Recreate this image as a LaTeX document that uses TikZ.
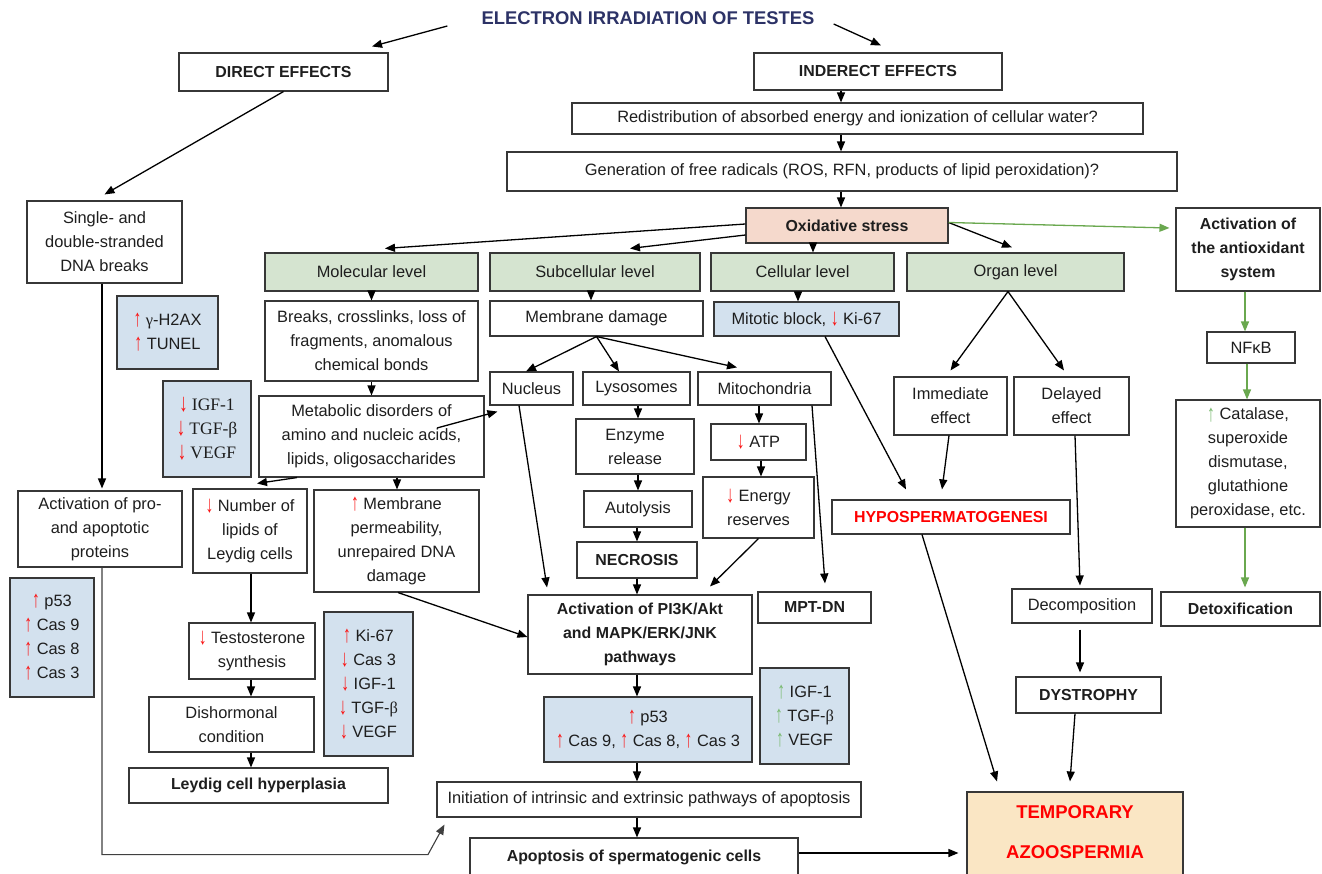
\documentclass[tikz,border=0pt]{standalone}
\usepackage{fontspec}
\setmainfont{Liberation Sans}
\newfontfamily\serifgr{Liberation Serif}
\usetikzlibrary{arrows.meta}
\definecolor{blueF}{RGB}{211,225,238}
\definecolor{greenF}{RGB}{213,228,208}
\definecolor{salmonF}{RGB}{245,217,204}
\definecolor{tempF}{RGB}{250,230,196}
\definecolor{navy}{RGB}{44,50,102}
\definecolor{redA}{RGB}{250,20,20}
\definecolor{greenL}{RGB}{106,168,79}
\definecolor{greenA}{RGB}{120,185,110}
\definecolor{bordc}{RGB}{55,55,55}
\definecolor{textc}{RGB}{30,30,30}
\newcommand\arrglyph[1]{\raisebox{-1.2pt}{\scalebox{0.95}[1.45]{#1}}}
\newcommand\UpR{{\color{redA}\arrglyph{↑}}\ }
\newcommand\DnR{{\color{redA}\arrglyph{↓}}\ }
\newcommand\UpG{{\color{greenA}\arrglyph{↑}}\ }
\newcommand\regf{\fontsize{16.4}{24}\selectfont}
\newcommand\bldf{\fontsize{15.9}{24}\selectfont\bfseries}
\newcommand\serf{\fontsize{17.5}{24}\selectfont\serifgr}
\newcommand\gbeta{{\serifgr β}}
\tikzset{
  wh/.style 2 args={minimum width=#1pt, minimum height=#2pt},
  box/.style={draw=bordc, line width=1.1pt, fill=white, inner sep=0pt, align=center, font=\regf, text=textc},
  bbox/.style={box, font=\bldf},
  bluebox/.style={box, fill=blueF},
  greenbox/.style={box, fill=greenF},
  arr/.style={-{Triangle[length=10pt,width=8pt]}, line width=1.3pt, draw=black},
  garr/.style={-{Triangle[length=10pt,width=8pt]}, line width=1.3pt, draw=greenL, fill=greenL},
}
\begin{document}
\begin{tikzpicture}[x=1pt, y=-1pt]
\clip (0,0) rectangle (1322,874);
\fill[white] (0,0) rectangle (1322,874);

% title
\node[font=\fontsize{18.4}{22}\selectfont\bfseries, text=navy, inner sep=0pt] (title) at (648,18) {ELECTRON IRRADIATION OF TESTES};

% top chain
\node[bbox, wh={209}{38}] (direct) at (283.5,72) {DIRECT EFFECTS};
\node[bbox, wh={248}{37}] (indirect) at (878,71.5) {INDERECT EFFECTS};
\node[box, wh={571}{31}] (redis) at (857.5,118.5) {Redistribution of absorbed energy and ionization of cellular water?};
\node[box, wh={670}{39}] (gen) at (842,171.5) {Generation of free radicals (ROS, RFN, products of lipid peroxidation)?};
\node[bbox, fill=salmonF, wh={202}{35}] (oxid) at (847,225.5) {Oxidative stress};

% levels
\node[greenbox, wh={213}{38}] (molec) at (371.5,272) {Molecular level};
\node[greenbox, wh={210}{38}] (subc) at (595,272) {Subcellular level};
\node[greenbox, wh={183}{38}] (cell) at (802.5,272) {Cellular level};
\node[greenbox, wh={217}{38}] (organ) at (1015.5,272) {Organ level};

% antioxidant branch
\node[bbox, wh={144}{83}] (antiox) at (1248,249.5) {Activation of\\the antioxidant\\system};
\node[box, wh={88}{31}] (nfkb) at (1251,347.5) {NFκB};
\node[box, wh={144}{127}] (catal) at (1248,463.5) {\UpG Catalase,\\superoxide\\dismutase,\\glutathione\\peroxidase, etc.};
\node[bbox, wh={159}{34}] (detox) at (1240.5,609) {Detoxification};

% organ branch
\node[box, wh={113}{58}] (immed) at (950.5,406) {Immediate\\effect};
\node[box, wh={115}{58}] (delay) at (1071.5,406) {Delayed\\effect};
\node[bbox, text=red, wh={238}{34}] (hypo) at (951,517) {HYPOSPERMATOGENESI};
\node[box, wh={140}{34}] (decomp) at (1082,606) {Decomposition};
\node[bbox, wh={145}{36}] (dystro) at (1088.5,695) {DYSTROPHY};
\node[box, fill=tempF, wh={216}{86}] (tempo) at (1075,835) {};
\node[font=\fontsize{18.5}{40}\selectfont\bfseries, text=red, align=center, inner sep=0pt] (tempotxt) at (1075,832) {TEMPORARY\\AZOOSPERMIA};

% direct branch
\node[box, wh={155}{82}] (single) at (104.5,242) {Single- and\\double-stranded\\DNA breaks};
\node[bluebox, wh={101}{73}] (gh2ax) at (167.5,332.5) {\UpR{\serifgr γ}-H2AX\\\UpR TUNEL};
\node[bluebox, font=\serf, wh={88}{96}] (igfa) at (207,429) {\DnR IGF-1\\\DnR TGF-β\\\DnR VEGF};
\node[box, wh={164}{76}] (actpro) at (100,529) {Activation of pro-\\and apoptotic\\proteins};
\node[bluebox, wh={84}{119}] (p53l) at (52,637.5) {\UpR p53\\\UpR Cas 9\\\UpR Cas 8\\\UpR Cas 3};

% molecular branch
\node[box, wh={213}{80}] (breaks) at (371.5,341) {Breaks, crosslinks, loss of\\fragments, anomalous\\chemical bonds};
\node[box, wh={225}{81}] (metab) at (371.5,436.5) {Metabolic disorders of\\amino and nucleic acids,\\lipids, oligosaccharides};
\node[box, wh={114}{84}] (nlip) at (250,531) {\DnR Number of\\lipids of\\Leydig cells};
\node[box, wh={165}{102}] (memperm) at (396.5,541) {\UpR Membrane\\permeability,\\unrepaired DNA\\damage};
\node[box, wh={126}{56}] (testo) at (252,651) {\DnR Testosterone\\synthesis};
\node[box, wh={165}{55}] (disho) at (231.5,724.5) {Dishormonal\\condition};
\node[bbox, wh={259}{35}] (leydig) at (258.5,785.5) {Leydig cell hyperplasia};
\node[bluebox, wh={89}{144}] (ki67) at (368.5,684) {\UpR Ki-67\\\DnR Cas 3\\\DnR IGF-1\\\DnR TGF-\gbeta\\\DnR VEGF};

% subcellular branch
\node[box, wh={213}{35}] (memdam) at (596.5,318.5) {Membrane damage};
\node[box, wh={83}{33}] (nucleus) at (531.5,388.5) {Nucleus};
\node[box, wh={107}{33}] (lyso) at (636.5,388.5) {Lysosomes};
\node[box, wh={133}{33}] (mito) at (764.5,388.5) {Mitochondria};
\node[box, wh={118}{55}] (enzyme) at (635,446.5) {Enzyme\\release};
\node[box, wh={108}{36}] (autol) at (638,509) {Autolysis};
\node[bbox, wh={120}{36}] (necro) at (637,560) {NECROSIS};
\node[box, wh={95}{36}] (atp) at (758.5,442) {\DnR ATP};
\node[box, wh={111}{61}] (energy) at (758.5,507.5) {\DnR Energy\\reserves};
\node[bbox, wh={113}{31}] (mptdn) at (814.5,607.5) {MPT-DN};

% cellular
\node[bluebox, wh={185}{34}] (mitot) at (806.5,319) {Mitotic block, \DnR Ki-67};

% apoptosis chain
\node[bbox, wh={224}{79}] (pi3k) at (640,634.5) {Activation of PI3K/Akt\\and MAPK/ERK/JNK\\pathways};
\node[bluebox, wh={208}{65}] (p53m) at (648,729.5) {\UpR p53\\\UpR Cas 9, \UpR Cas 8, \UpR Cas 3};
\node[bluebox, wh={89}{96}] (igfg) at (804.5,716) {\UpG IGF-1\\\UpG TGF-\gbeta\\\UpG VEGF};
\node[box, wh={424}{35}] (init) at (649,799.5) {Initiation of intrinsic and extrinsic pathways of apoptosis};
\node[bbox, wh={328}{38}] (apopt) at (634,857) {Apoptosis of spermatogenic cells};

% ---------- connectors ----------
\draw[arr] ([xshift=-34pt,yshift=-8pt]title.west) -- ([xshift=88.5pt,yshift=6pt]direct.north);
\draw[arr] ([xshift=19pt,yshift=-6pt]title.east) -- ([xshift=3pt,yshift=7pt]indirect.north);
\draw[arr] (direct.south) -- ([yshift=6pt]single.north);
\draw[arr] ([xshift=-37pt]indirect.south) -- ([xshift=-16.5pt]redis.north);
\draw[arr] ([xshift=-16.5pt]redis.south) -- ([xshift=-1pt]gen.north);
\draw[arr] ([xshift=-1pt]gen.south) -- ([xshift=-6pt]oxid.north);

\draw[arr] ([yshift=1.5pt]oxid.west) -- ([xshift=13.5pt,yshift=4pt]molec.north);
\draw[arr] ([yshift=-9.5pt]oxid.west) -- ([xshift=35pt,yshift=4pt]subc.north);
\draw[arr] ([xshift=-34pt]oxid.south) -- ([xshift=10.5pt]cell.north);
\draw[arr] ([yshift=3pt]oxid.east) -- ([xshift=-3.5pt,yshift=5pt]organ.north);
\draw[garr] ([yshift=3pt]oxid.east) -- ([xshift=-6pt,yshift=21.5pt]antiox.west);
\draw[garr] ([xshift=-3pt]antiox.south) -- ([xshift=-6pt]nfkb.north);
\draw[garr] ([xshift=-4pt]nfkb.south) -- ([xshift=-1pt]catal.north);
\draw[garr] ([xshift=-3pt]catal.south) -- ([xshift=4.5pt,yshift=4pt]detox.north);

\draw[arr] ([xshift=-7.5pt]organ.south) -- ([yshift=6pt]immed.north);
\draw[arr] ([xshift=-7.5pt]organ.south) -- ([xshift=-7.5pt,yshift=6pt]delay.north);
\draw[arr] ([xshift=-1.5pt]immed.south) -- ([xshift=-9pt,yshift=10pt]hypo.north);
\draw[arr] ([xshift=18.5pt]mitot.south) -- ([xshift=-45pt,yshift=10pt]hypo.north);
\draw[arr] ([xshift=3.5pt]delay.south) -- ([xshift=-2pt,yshift=3pt]decomp.north);
\draw[arr] ([xshift=-2pt,yshift=-6pt]decomp.south) -- ([xshift=-8.5pt,yshift=4pt]dystro.north);
\draw[arr] ([xshift=-13.5pt]dystro.south) -- ([xshift=-5pt,yshift=10pt]tempo.north);
\draw[arr] ([xshift=-29pt]hypo.south) -- ([xshift=-78pt,yshift=10pt]tempo.north);
\draw[arr] ([yshift=4pt]apopt.east) -- ([xshift=-8pt,yshift=-18pt]tempo.west);

\draw[arr] ([xshift=-2.5pt]single.south) -- ([xshift=2pt,yshift=2pt]actpro.north);
\draw[-{Triangle[length=10pt,width=8pt]}, line width=1.1pt, draw=black!75] ([xshift=2pt]actpro.south) -- ++(0,287) -- ++(326,0) -- ([xshift=8pt,yshift=-7pt]init.south west);

\draw[arr] (molec.south) -- (breaks.north);
\draw[arr] (breaks.south) -- (metab.north);
\draw[arr] ([xshift=65.5pt,yshift=8.5pt]metab.center) -- ([xshift=8pt,yshift=-6pt]nucleus.south west);
\draw[arr] ([xshift=-74.5pt]metab.south) -- ([xshift=7pt,yshift=5pt]nlip.north);
\draw[arr] ([xshift=25.5pt]metab.south) -- ([xshift=0.5pt]memperm.north);
\draw[arr] ([xshift=1pt]nlip.south) -- ([xshift=-1pt]testo.north);
\draw[arr] ([xshift=-1pt]testo.south) -- ([xshift=19.5pt]disho.north);
\draw[arr] ([xshift=19.5pt]disho.south) -- ([xshift=-7.5pt]leydig.north);
\draw[arr] ([xshift=1.5pt]memperm.south) -- ([yshift=-2.5pt]pi3k.west);

\draw[arr] ([xshift=-4pt]subc.south) -- ([xshift=-5.5pt]memdam.north);
\draw[arr] (memdam.south) -- ([xshift=-5.5pt]nucleus.north);
\draw[arr] (memdam.south) -- ([xshift=-17.5pt]lyso.north);
\draw[arr] (memdam.south) -- ([xshift=-27.5pt,yshift=4pt]mito.north);
\draw[arr] ([xshift=-12.5pt]nucleus.south) -- ([xshift=-93pt,yshift=7pt]pi3k.north);
\draw[arr] ([xshift=1.5pt]lyso.south) -- ([xshift=3pt]enzyme.north);
\draw[arr] ([xshift=3pt]enzyme.south) -- (autol.north);
\draw[arr] ([xshift=-1pt]autol.south) -- (necro.north);
\draw[arr] (necro.south) -- ([xshift=-3pt]pi3k.north);
\draw[arr] ([xshift=-5.5pt]mito.south) -- ([xshift=0.5pt]atp.north);
\draw[arr] ([xshift=2.5pt]atp.south) -- ([xshift=2.5pt]energy.north);
\draw[arr] (energy.south) -- ([xshift=70pt,yshift=8pt]pi3k.north);
\draw[arr] ([xshift=47.5pt]mito.south) -- ([xshift=10.5pt,yshift=8pt]mptdn.north);
\draw[arr] ([xshift=-4.5pt]cell.south) -- ([xshift=-8.5pt]mitot.north);

\draw[arr] ([xshift=-3pt]pi3k.south) -- ([xshift=-11pt]p53m.north);
\draw[arr] ([xshift=-11pt]p53m.south) -- ([xshift=-12pt]init.north);
\draw[arr] ([xshift=-12pt]init.south) -- ([xshift=3pt]apopt.north);
\end{tikzpicture}
\end{document}
